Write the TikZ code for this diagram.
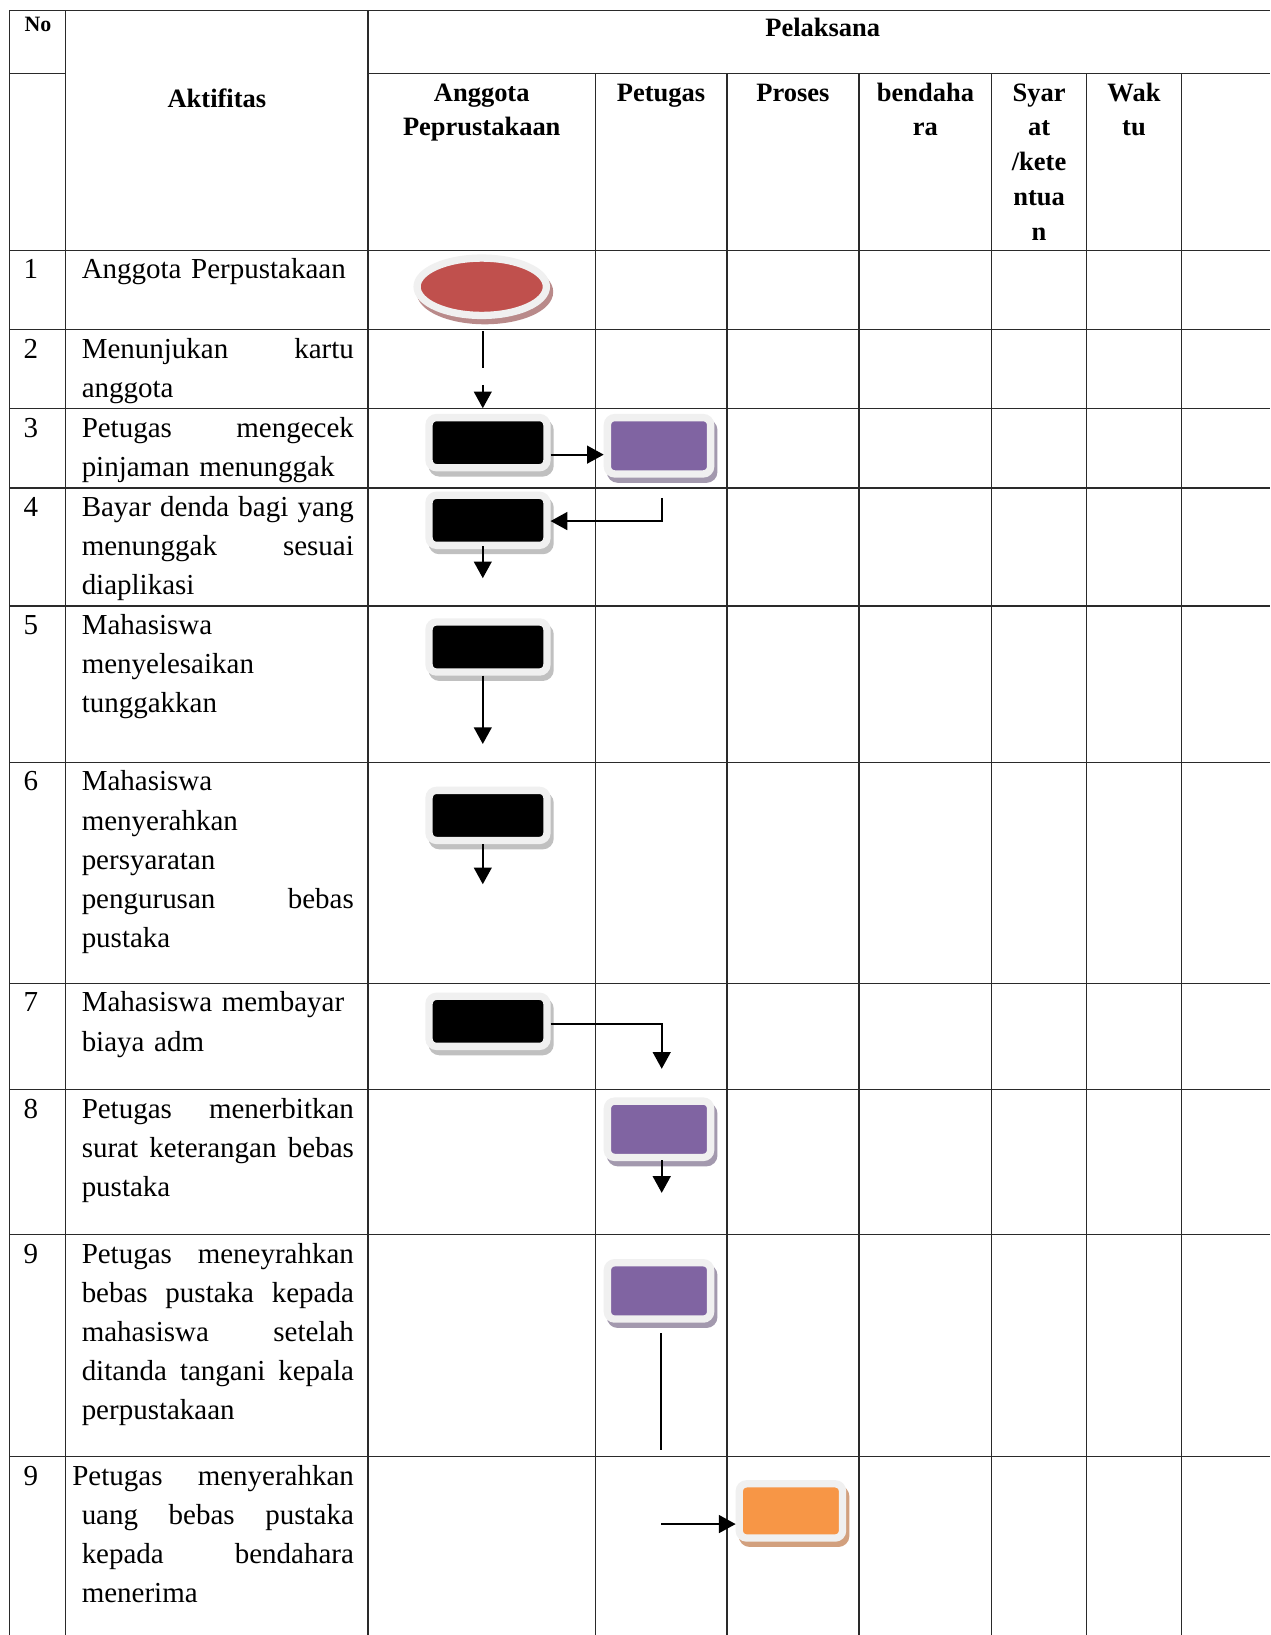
\documentclass[tikz,border=0pt]{standalone}
\usepackage{fontspec}
\setmainfont{Liberation Serif}
\usetikzlibrary{arrows.meta,calc,shapes.geometric}

\definecolor{redF}{HTML}{C0504D}
\definecolor{purpF}{HTML}{8064A2}
\definecolor{orF}{HTML}{F79646}
\definecolor{rimC}{HTML}{F0F0F0}
\definecolor{shBlack}{HTML}{C0C0C0}
\definecolor{shPurp}{HTML}{A399AE}
\definecolor{shRed}{HTML}{B98A8A}
\definecolor{shOr}{HTML}{D2A07E}
\definecolor{gridC}{HTML}{2A2A2A}

\newcommand{\jl}[1]{\makebox[130.5pt][s]{#1}}

\tikzset{
  gridline/.style={draw=gridC, line width=0.7pt},
  body/.style={font=\fontsize{13.9}{18.75}\selectfont, inner sep=0pt, anchor=base west, text width=130.5pt, align=left},
  hdr/.style={font=\fontsize{12.7}{16.65}\selectfont\bfseries, inner sep=0pt, anchor=base, text width=100pt, align=center},
  numtxt/.style={font=\fontsize{13.9}{18.75}\selectfont, inner sep=0pt, anchor=base},
  rimbox/.style={draw=rimC, line width=3.5pt, rounded corners=3.5pt, inner sep=0pt},
  shad/.style={preaction={draw=#1, fill=#1, line width=3.5pt, transform canvas={shift={(1.5pt,-2.5pt)}}}},
  blk/.style={rimbox, fill=black, minimum width=56.5pt, minimum height=24pt, shad=shBlack},
  pur/.style={rimbox, fill=purpF, minimum width=49.5pt, minimum height=27pt, shad=shPurp},
  orn/.style={rimbox, fill=orF, minimum width=49.5pt, minimum height=26pt, shad=shOr},
  startN/.style={ellipse, draw=rimC, line width=3.5pt, fill=redF, inner sep=0pt, minimum width=62pt, minimum height=27.5pt, shad=shRed},
  conn/.style={draw=black, line width=1pt},
  arr/.style={conn, -{Triangle[width=8.5pt,length=8pt]}}
}

\begin{document}
\begin{tikzpicture}[x=0.5pt,y=-0.5pt]
\useasboundingbox (0,0) rectangle (1218,1568);
\fill[white] (0,0) rectangle (1218,1568);

% ---------- grid ----------
\draw[gridline] (9,10) -- (1218,10);
\draw[gridline] (9,10) -- (9,1568);
\draw[gridline] (63,10) -- (63,1568);
\draw[gridline] (353,10) -- (353,1568);
\draw[gridline] (9,70.5) -- (63,70.5);
\draw[gridline] (353,70.5) -- (1218,70.5);
\foreach \xx in {571,697,824,951,1042,1133}
  \draw[gridline] (\xx,70.5) -- (\xx,1568);
\foreach \yy in {240,316,392,468,581,731,943,1045,1184,1397}
  \draw[gridline] (9,\yy) -- (1218,\yy);

% ---------- header ----------
\node[hdr, font=\fontsize{10.5}{12}\selectfont\bfseries] (hNo) at (36.5,30.4) {No};
\node[hdr] (hAkt) at (208,103) {Aktifitas};
\node[hdr] (hPel) at (789,35) {Pelaksana};
\node[hdr] (hAng) at (462,97) {Anggota\\Peprustakaan};
\node[hdr] (hPet) at (634,97) {Petugas};
\node[hdr] (hPro) at (760.5,97) {Proses};
\node[hdr] (hBen) at (887.5,97) {bendaha\\ra};
\node[hdr] (hSya) at (996.5,97) {Syar\\at\\/kete\\ntua\\n};
\node[hdr] (hWak) at (1087.5,97) {Wak\\tu};

% ---------- numbers ----------
\node[numtxt] (n1) at (29.5,267.5) {1};
\node[numtxt] (n2) at (29.5,343.5) {2};
\node[numtxt] (n3) at (29.5,419.5) {3};
\node[numtxt] (n4) at (29.5,495.5) {4};
\node[numtxt] (n5) at (29.5,608.5) {5};
\node[numtxt] (n6) at (29.5,758.5) {6};
\node[numtxt] (n7) at (29.5,970.5) {7};
\node[numtxt] (n8) at (29.5,1072.5) {8};
\node[numtxt] (n9) at (29.5,1211.5) {9};
\node[numtxt] (n10) at (29.5,1424.5) {9};

% ---------- activity texts ----------
\node[body] (t1) at (78,267.5) {Anggota Perpustakaan};
\node[body] (t2) at (78,343.5) {\jl{Menunjukan\hfill kartu}\\anggota};
\node[body] (t3) at (78,419.5) {\jl{Petugas\hfill mengecek}\\pinjaman menunggak};
\node[body] (t4) at (78,495.5) {\jl{Bayar\hfill denda\hfill bagi\hfill yang}\\\jl{menunggak\hfill sesuai}\\diaplikasi};
\node[body] (t5) at (78,608.5) {Mahasiswa\\menyelesaikan\\tunggakkan};
\node[body] (t6) at (78,758.5) {Mahasiswa\\menyerahkan\\persyaratan\\\jl{pengurusan\hfill bebas}\\pustaka};
\node[body] (t7) at (78,970.5) {Mahasiswa membayar\\biaya adm};
\node[body] (t8) at (78,1072.5) {\jl{Petugas\hfill menerbitkan}\\\jl{surat\hfill keterangan\hfill bebas}\\pustaka};
\node[body] (t9) at (78,1211.5) {\jl{Petugas\hfill meneyrahkan}\\\jl{bebas\hfill pustaka\hfill kepada}\\\jl{mahasiswa\hfill setelah}\\\jl{ditanda\hfill tangani\hfill kepala}\\perpustakaan};
\node[body] (t10) at (78,1424.5) {\hspace*{-4.5pt}\makebox[135pt][s]{Petugas\hfill menyerahkan}\\\jl{uang\hfill bebas\hfill pustaka}\\\jl{kepada\hfill bendahara}\\menerima};

% ---------- flow shapes ----------
\node[startN] (s1) at (462,275) {};
\node[blk] (b1) at (468,424.5) {};
\node[pur] (p1) at (632,427.5) {};
\node[blk] (b2) at (468,499) {};
\node[blk] (b3) at (468,620.5) {};
\node[blk] (b4) at (468,782) {};
\node[blk] (b5) at (468,979.5) {};
\node[pur] (p2) at (632,1083) {};
\node[pur] (p3) at (632,1238) {};
\node[orn] (o1) at (758.5,1449) {};

% ---------- connectors ----------
\coordinate (g1) at (463,352.5);
\coordinate (g2) at (463,369);
\draw[conn] ($(s1.south -| g1)+(0,11.5)$) -- (g1);
\draw[arr] (g2) -- ($(b1.north -| g2)+(0,-5.5)$);

\coordinate (c2) at ($(b1.east)+(0,11.5)$);
\draw[arr] (c2) -- (c2 -| p1.west);

\coordinate (c3) at (634.6,499.7);
\draw[arr] ($(p1.south)+(2.6,19.5)$) -- (c3) -- (c3 -| b2.east);

\coordinate (e4) at (463,554.5);
\draw[arr] ($(b2.south -| e4)+(0,-2.5)$) -- (e4);

\coordinate (e5) at (463,713.5);
\draw[arr] (b3.south -| e5) -- (e5);

\coordinate (e6) at (463,848);
\draw[arr] (b4.south -| e6) -- (e6);

\coordinate (c7) at (634.6,982);
\coordinate (e7) at (634.6,1025);
\draw[arr] (b5.east |- c7) -- (c7) -- (e7);

\coordinate (e8) at (634.6,1144);
\draw[arr] ($(p2.south -| e8)+(0,-1)$) -- (e8);

\coordinate (e9) at (634.3,1391);
\draw[conn] ($(p3.south -| e9)+(0,10)$) -- (e9);

\coordinate (c10) at (634.3,1461.6);
\draw[arr] (c10) -- (c10 -| o1.west);
\end{tikzpicture}
\end{document}
